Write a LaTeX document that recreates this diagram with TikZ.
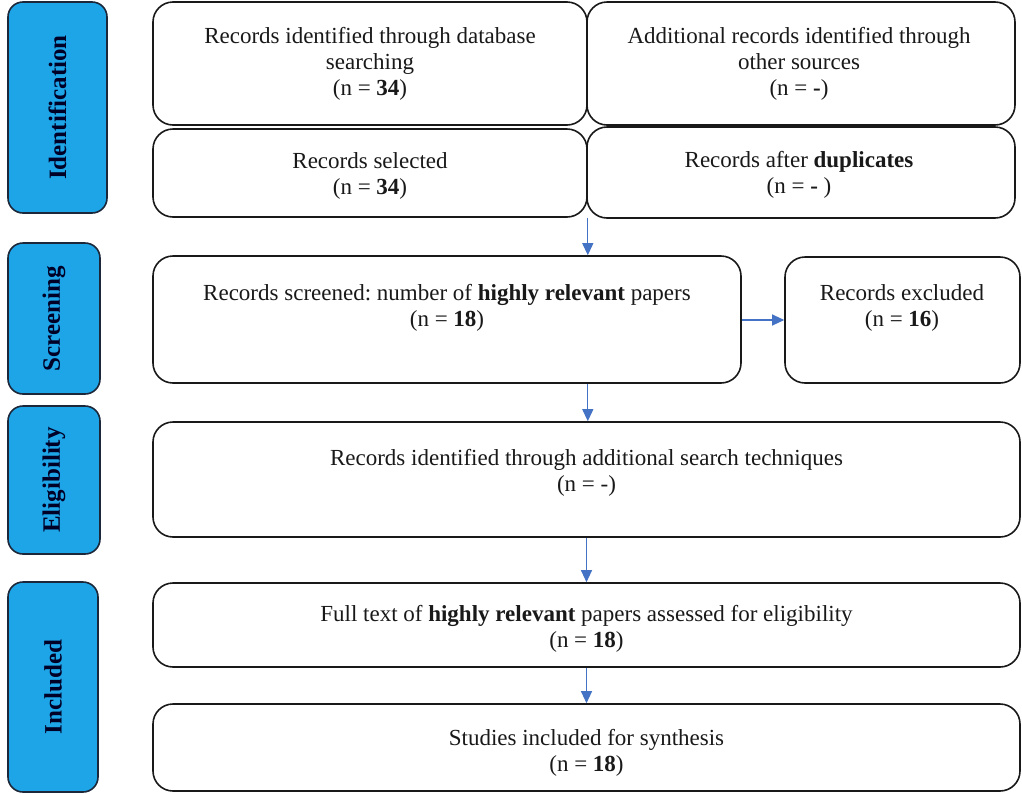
\documentclass[tikz,border=0pt]{standalone}
\usepackage{fontspec}
\setmainfont{Liberation Serif}
\frenchspacing
\usetikzlibrary{arrows.meta}
\definecolor{phasefill}{RGB}{29,165,232}
\definecolor{phaseline}{RGB}{28,40,58}
\definecolor{arrowblue}{RGB}{68,114,196}
\tikzset{
  phasebox/.style={draw=phaseline, line width=1.6pt, fill=phasefill, rounded corners=15pt, inner sep=0pt},
  phaselabel/.style={rotate=90, font=\fontsize{25}{30}\selectfont\bfseries, text=black!85!blue, inner sep=0pt},
  recbox/.style={draw=black!90, line width=1.6pt, fill=white, rounded corners=20pt, inner sep=0pt},
  rectext/.style={align=center, font=\fontsize{23}{26}\selectfont\frenchspacing, text=black!90, inner sep=0pt},
  flow/.style={draw=arrowblue, line width=1.1pt, -{Triangle[length=12pt,width=11pt]}}
}
\begin{document}
\begin{tikzpicture}[x=1pt,y=-1pt]
\useasboundingbox (0,0) rectangle (1022,793);
% phase boxes
\node[phasebox, minimum width=99pt, minimum height=211pt] (pI) at (57.5,107.5) {};
\node[phaselabel] (lI) at (pI.center) {Identification};
\node[phasebox, minimum width=92pt, minimum height=151pt] (pS) at (54,318.5) {};
\node[phaselabel] (lS) at (pS.center) {Screening};
\node[phasebox, minimum width=92pt, minimum height=148pt] (pE) at (54,480) {};
\node[phaselabel] (lE) at (pE.center) {Eligibility};
\node[phasebox, minimum width=90pt, minimum height=210pt] (pN) at (53,687) {};
\node[phaselabel] (lN) at (pN.center) {Included};
% record boxes
\node[recbox, minimum width=434pt, minimum height=123pt] (A) at (370,63.5) {};
\node[rectext] (tA) at (370,64) {Records identified through database\\searching\\(n = \textbf{34})};
\node[recbox, minimum width=428pt, minimum height=123pt] (B) at (801,63.5) {};
\node[rectext] (tB) at (799,64) {Additional records identified through\\other sources\\(n = \textbf{-})};
\node[recbox, minimum width=434pt, minimum height=88pt] (C) at (370,173) {};
\node[rectext] (tC) at (370,176) {Records selected\\(n = \textbf{34})};
\node[recbox, minimum width=428pt, minimum height=91pt] (D) at (801,172.5) {};
\node[rectext] (tD) at (799,174.5) {Records after \textbf{duplicates}\\(n = \textbf{-} )};
\node[recbox, minimum width=588pt, minimum height=127pt] (E) at (447,319.5) {};
\node[rectext] (tE) at (447,308) {Records screened: number of \textbf{highly relevant} papers\\(n = \textbf{18})};
\node[recbox, minimum width=235pt, minimum height=126pt] (F) at (902.5,320) {};
\node[rectext] (tF) at (902,308) {Records excluded\\(n = \textbf{16})};
\node[recbox, minimum width=867pt, minimum height=115pt] (G) at (586.5,479.5) {};
\node[rectext] (tG) at (586.5,473) {Records identified through additional search techniques\\(n = -)};
\node[recbox, minimum width=867pt, minimum height=84pt] (H) at (586.5,625) {};
\node[rectext] (tH) at (586.5,629) {Full text of \textbf{highly relevant} papers assessed for eligibility\\(n = \textbf{18})};
\node[recbox, minimum width=867pt, minimum height=87pt] (I) at (586.5,747.5) {};
\node[rectext] (tI) at (586.5,753) {Studies included for synthesis\\(n = \textbf{18})};
% connectors
\draw[flow] (C.south east) -- (C.south east |- E.north);
\draw[flow] (E.east |- F.west) -- (F.west);
\draw[flow] (C.south east |- E.south) -- (C.south east |- G.north);
\draw[flow] (G.south) -- (H.north);
\draw[flow] (H.south) -- (I.north);
\end{tikzpicture}
\end{document}
